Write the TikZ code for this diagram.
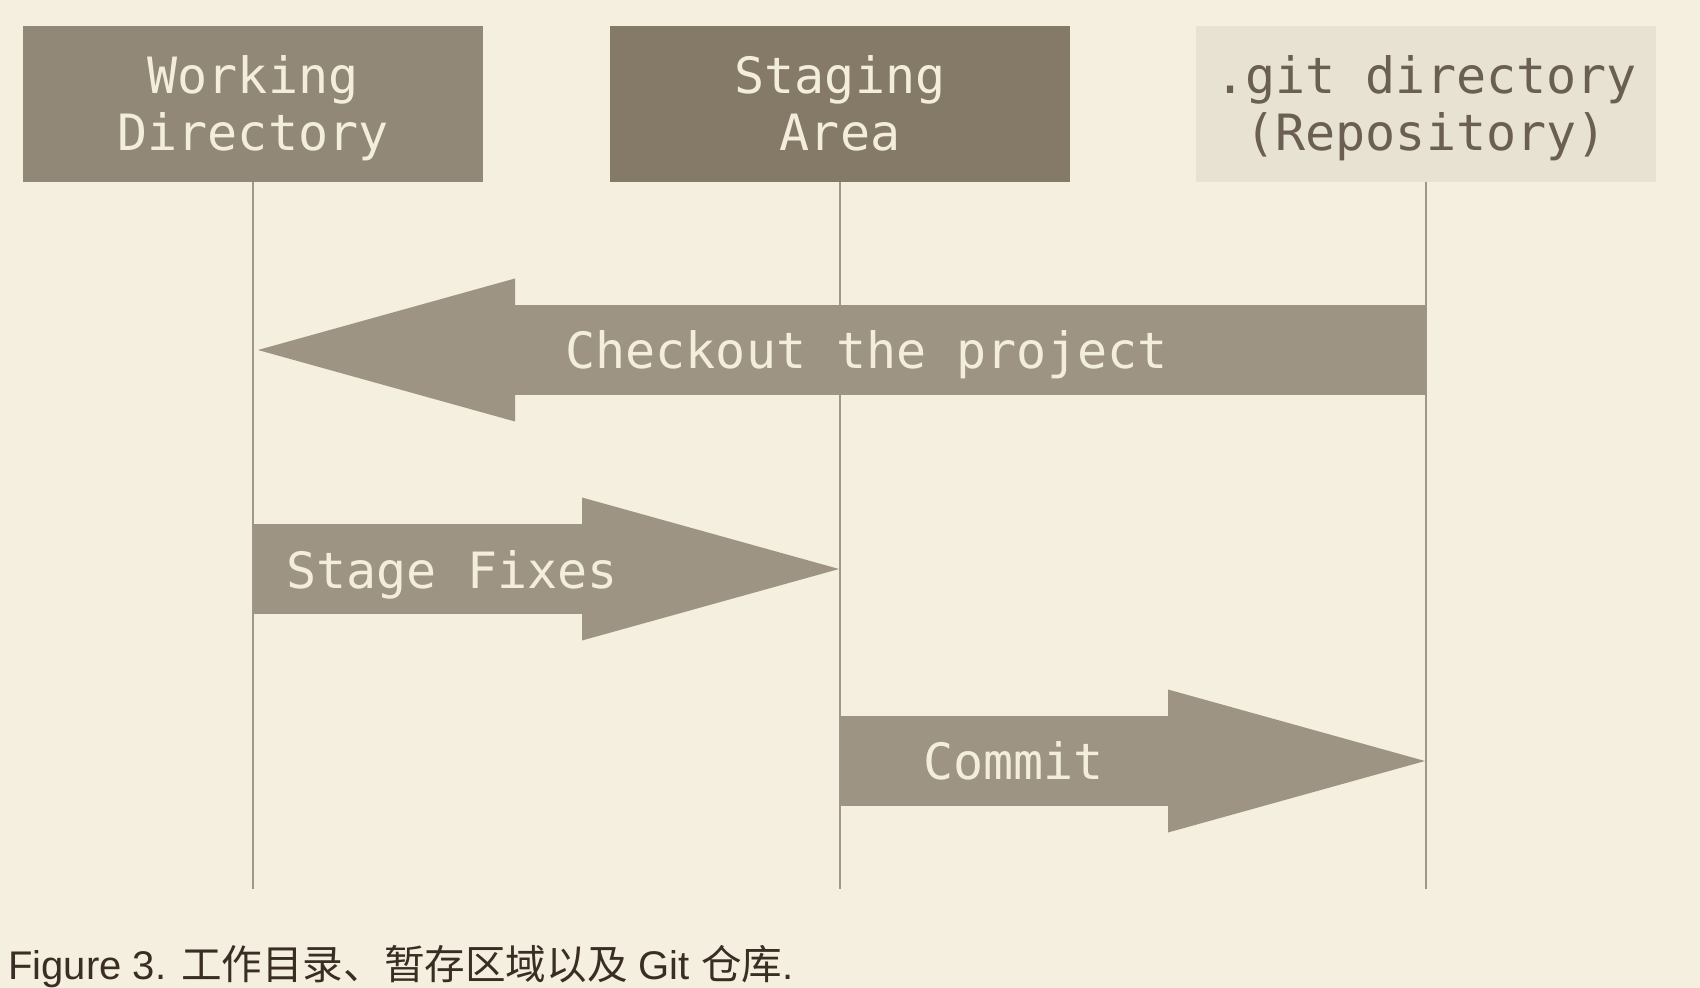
\documentclass[tikz,border=0pt]{standalone}
\usepackage{fontspec}
\setmainfont{Liberation Sans}
\setmonofont{DejaVu Sans Mono}
\newfontfamily\cjk[Scale=1.015]{Noto Sans CJK SC}
\usetikzlibrary{arrows.meta}

\definecolor{bgcream}{HTML}{F5EFE0}
\definecolor{wdbrown}{HTML}{918878}
\definecolor{sabrown}{HTML}{857968}
\definecolor{gitbeige}{HTML}{E8E2D2}
\definecolor{gittext}{HTML}{6B5F53}
\definecolor{boxtext}{HTML}{F3EDDC}
\definecolor{arrowgray}{HTML}{9E9483}
\definecolor{linegray}{HTML}{A0968A}
\definecolor{captiontext}{HTML}{3A2E24}

% struts so that all three boxes put their two lines at the same height
\newcommand{\topstrut}{\rule{0pt}{24.25pt}}
\newcommand{\botstrut}{\rule[-6pt]{0pt}{6pt}}

\begin{document}
\begin{tikzpicture}[x=0.5pt,y=-0.5pt,
  area/.style={minimum width=230pt,minimum height=78pt,inner sep=0pt,align=center,
    font=\ttfamily\fontsize{25}{28.75}\selectfont,text=boxtext},
  lifeline/.style={draw=linegray,line width=1pt},
  bigarrow/.style={draw=arrowgray,line width=45pt,
    -{Triangle[length=128.5pt,width=71.5pt,line width=0pt]}},
  arrowtext/.style={anchor=base west,inner sep=0pt,
    font=\ttfamily\fontsize{25}{28.75}\selectfont,text=boxtext}]

\fill[bgcream] (0,0) rectangle (1700,988);
\useasboundingbox (0,0) rectangle (1700,988);

\node (wd) at (253,104)[area,fill=wdbrown] {\topstrut Working\\Directory\botstrut};
\node (sa) at (840,104)[area,fill=sabrown] {\topstrut Staging\\Area\botstrut};
\node (git) at (1426,104)[area,fill=gitbeige,text=gittext] {\topstrut .git directory\\(Repository)\botstrut};

\coordinate (wd-end) at (253,889);
\coordinate (sa-end) at (840,889);
\coordinate (git-end) at (1426,889);
\draw [lifeline] (wd.south) -- (wd-end);
\draw [lifeline] (sa.south) -- (sa-end);
\draw [lifeline] (git.south) -- (git-end);

\coordinate (co-git) at (1426,350);
\coordinate (co-wd) at (258,350);
\coordinate (fix-wd) at (253,569);
\coordinate (fix-sa) at (839,569);
\coordinate (ci-sa) at (840,761);
\coordinate (ci-git) at (1425,761);
\draw [bigarrow] (co-git) -- (co-wd);
\draw [bigarrow] (fix-wd) -- (fix-sa);
\draw [bigarrow] (ci-sa) -- (ci-git);

\node (co-text) at (565,369)[arrowtext] {Checkout the project};
\node (fix-text) at (286,588)[arrowtext] {Stage Fixes};
\node (ci-text) at (923,779)[arrowtext] {Commit};

\node (caption) at (8,979)[anchor=base west,inner sep=0pt,text=captiontext,
  font=\fontsize{20}{24}\selectfont] {Figure 3. {\cjk 工作目录、暂存区域以及} Git {\cjk 仓库}.};
\end{tikzpicture}
\end{document}
